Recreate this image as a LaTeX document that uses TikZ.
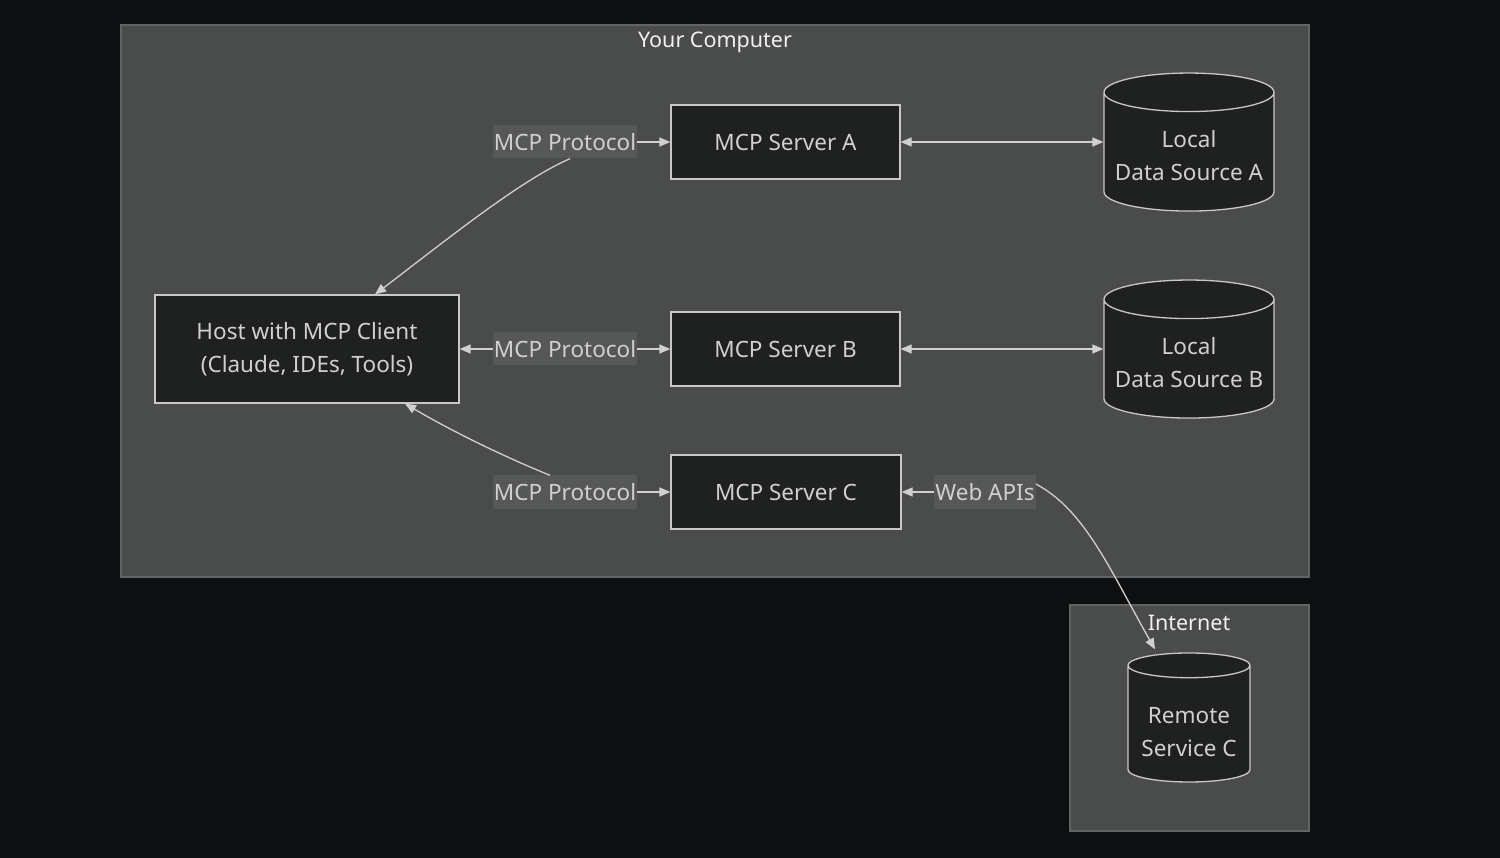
\documentclass[tikz,border=0pt]{standalone}
\usepackage{fontspec}
\setmainfont{Noto Sans}
\usetikzlibrary{shapes,arrows.meta}

\definecolor{pagebg}{RGB}{14,15,17}
\definecolor{groupbg}{RGB}{74,76,75}
\definecolor{groupline}{RGB}{98,99,100}
\definecolor{boxbg}{RGB}{31,32,32}
\definecolor{boxline}{RGB}{200,200,200}
\definecolor{txt}{RGB}{208,208,208}
\definecolor{lblbg}{RGB}{86,87,87}

\begin{document}
\begin{tikzpicture}[x=1pt, y=-1pt,
		box/.style={draw=boxline, fill=boxbg, line width=1.3pt, text=txt, inner sep=0pt, align=center, font=\fontsize{22.5}{33}\selectfont},
		db/.style={box, cylinder, shape border rotate=90, aspect=0.26},
		lbl/.style={fill=lblbg, text=txt, inner xsep=1pt, inner ysep=0pt, minimum height=33pt, font=\fontsize{22.5}{27}\selectfont},
		group/.style={draw=groupline, fill=groupbg, line width=1.3pt},
		title/.style={text=white!94!black, font=\fontsize{21.5}{26}\selectfont},
		arr/.style={draw=txt, line width=1.3pt, -{Triangle[length=11pt, width=9pt]}},
		biarr/.style={arr, {Triangle[length=11pt, width=9pt]}-{Triangle[length=11pt, width=9pt]}}]
	\fill[pagebg] (0,0) rectangle (1500,858);
	\useasboundingbox (0,0) rectangle (1500,858);
	% Your Computer
	\draw[group] (121,25) rectangle (1309,577);
	\node[title] (tcomp) at (715,42) {Your Computer};
	\node[box, minimum width=304pt, minimum height=108pt] (host) at (307,349) {Host with MCP Client\\(Claude, IDEs, Tools)};
	\node[box, minimum width=229pt, minimum height=74pt] (srvA) at (785.5,142) {MCP Server A};
	\node[box, minimum width=229pt, minimum height=74pt] (srvB) at (785.5,349) {MCP Server B};
	\node[box, minimum width=230pt, minimum height=74pt] (srvC) at (786,492) {MCP Server C};
	\node[db, minimum width=170pt, minimum height=138pt] (dsA) at (1189,152) {\\[-9pt]Local\\Data Source A};
	\node[db, minimum width=170pt, minimum height=138pt] (dsB) at (1189,359) {\\[-9pt]Local\\Data Source B};
	% Internet
	\draw[group] (1070,605) rectangle (1309,831);
	\node[title] (tnet) at (1189,623) {Internet};
	\node[db, minimum width=122pt, minimum height=129pt] (remC) at (1189,724) {\\[0pt]Remote\\Service C};
	% edge labels
	\node[lbl] (lblA) at (565,142) {MCP Protocol};
	\node[lbl] (lblB) at (565,349) {MCP Protocol};
	\node[lbl] (lblC) at (565,492) {MCP Protocol};
	\node[lbl] (lblW) at (985,492) {Web APIs};
	% connectors
	\draw[arr] (lblA) -- (srvA);
	\draw[arr] ([xshift=5pt]lblA.south) .. controls (520,180) and (440,245) .. ([xshift=68pt]host.north);
	\draw[arr] (lblB) -- (host);
	\draw[arr] (lblB) -- (srvB);
	\draw[arr] (lblC) -- (srvC);
	\draw[arr] ([xshift=-15pt]lblC.north) .. controls (500,455) and (450,430) .. ([xshift=98pt]host.south);
	\draw[biarr] (srvA.east) -- (srvA.east -| dsA.west);
	\draw[biarr] (srvB.east) -- (srvB.east -| dsB.west);
	\draw[arr] (lblW) -- (srvC);
	\draw[arr] ([yshift=8pt]lblW.east) .. controls (1085,510) and (1110,570) .. ([xshift=-34pt, yshift=3pt]remC.north);
\end{tikzpicture}
\end{document}
